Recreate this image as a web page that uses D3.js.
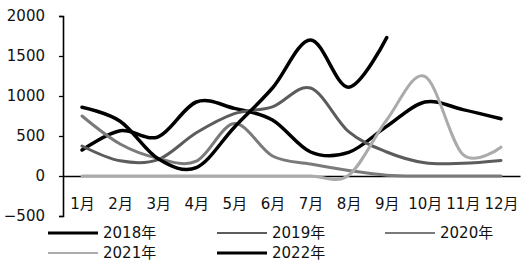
<!DOCTYPE html>
<html lang="zh">
<head>
    <meta charset="UTF-8">
    <title>Monthly</title>
    <script src="https://d3js.org/d3.v7.min.js"></script>
    <style>
        body { margin: 0; background: #fff; }
        text { font-family: "DejaVu Sans", "Noto Sans CJK SC", sans-serif; font-size: 15px; fill: #111; }
        path.line { fill: none; stroke-linejoin: round; stroke-linecap: round; }
    </style>
</head>
<body>
<script>
    const width  = 525;
    const height = 269;

    const months = ["1月","2月","3月","4月","5月","6月","7月","8月","9月","10月","11月","12月"];
    const yTicks = [-500, 0, 500, 1000, 1500, 2000];

    const names = ["2018年", "2019年", "2020年", "2021年", "2022年"];
    const v2018 = [325, 565, 490, 925, 845, 700, 300, 295, 620, 925, 830, 715];
    const v2019 = [375, 190, 205, 540, 780, 865, 1100, 555, 300, 165, 160, 195];
    const v2020 = [750, 400, 220, 185, 655, 250, 150, 70, 10, 0, 0, 0];
    const v2021 = [0, 0, 0, 0, 0, 0, 0, 10, 700, 1245, 270, 360];
    const v2022 = [860, 685, 215, 105, 610, 1100, 1700, 1110, 1730];

    const colors = ["#000", "#5c5c5c", "#7a7a7a", "#ababab", "#000"];
    const widths = [3.5, 3, 3, 3, 3.5];
    const series = [v2018, v2019, v2020, v2021, v2022];

    const x = d3.scalePoint().domain(months).range([63, 520]).padding(0.5);
    const y = d3.scaleLinear().domain([-500, 2000]).range([216, 16]);

    const svg = d3.select("body").append("svg").attr("width", width).attr("height", height);

    // x axis on zero line
    svg.append("g")
        .attr("transform", "translate(0," + y(0) + ")")
        .call(d3.axisBottom(x).tickSize(0).tickPadding(22))
        .call(g => g.select(".domain").attr("stroke", "#000").attr("stroke-width", 1.3))
        .call(g => g.selectAll("text").attr("font-size", null).attr("font-family", null));

    svg.append("g")
        .attr("transform", "translate(63,0)")
        .call(d3.axisLeft(y).tickValues(yTicks).tickFormat(d3.format("d")).tickSize(4).tickPadding(14))
        .call(g => g.select(".domain").attr("stroke", "#000").attr("stroke-width", 1.6))
        .call(g => g.selectAll("line").attr("stroke-width", 1.3))
        .call(g => g.selectAll("text").attr("font-size", null).attr("font-family", null));

    const line = d3.line()
        .x((d, i) => x(months[i]))
        .y(d => y(d))
        .curve(d3.curveCardinal.tension(0));

    series.forEach((s, k) => {
        svg.append("path").attr("class", "line")
            .attr("d", line(s))
            .attr("stroke", colors[k])
            .attr("stroke-width", widths[k]);
    });

    // legend
    const legendPos = [[48, 233], [217, 233], [385, 233], [48, 253], [217, 253]];
    names.forEach((n, k) => {
        const [lx, ly] = legendPos[k];
        svg.append("line")
            .attr("x1", lx).attr("x2", lx + 50)
            .attr("y1", ly).attr("y2", ly)
            .attr("stroke", colors[k])
            .attr("stroke-width", k === 0 || k === 4 ? 3 : 2);
        svg.append("text")
            .attr("x", lx + 55).attr("y", ly)
            .attr("dy", "0.35em")
            .text(n);
    });
</script>
</body>
</html>
